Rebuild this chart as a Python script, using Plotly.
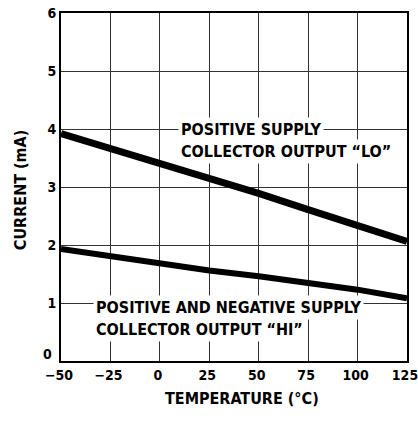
import plotly.graph_objects as go

temps = [-50, -25, 0, 25, 50, 75, 100, 125]
current_lo = [3.92, 3.67, 3.40, 3.14, 2.89, 2.61, 2.35, 2.06]
current_hi = [1.93, 1.80, 1.67, 1.56, 1.46, 1.35, 1.23, 1.08]

x_ticks = [-50, -25, 0, 25, 50, 75, 100, 125]
x_tick_labels = ["\u221250", "\u221225", "0", "25", "50", "75", "100", "125"]
y_ticks = [0, 1, 2, 3, 4, 5, 6]

FONT = "DejaVu Sans Condensed"
TICK_SIZE = 14

fig = go.Figure()
fig.add_trace(go.Scatter(x=temps, y=current_lo, mode="lines",
                         line=dict(color="black", width=7), showlegend=False))
fig.add_trace(go.Scatter(x=temps, y=current_hi, mode="lines",
                         line=dict(color="black", width=6), showlegend=False))

ann_font = dict(family=FONT, size=16, color="black")
labels = [
    (9.2, 4.0, "<b>POSITIVE SUPPLY</b>"),
    (9.2, 3.62, "<b>COLLECTOR OUTPUT \u201cLO\u201d</b>"),
    (-33.8, 0.93, "<b>POSITIVE AND NEGATIVE SUPPLY</b>"),
    (-33.8, 0.55, "<b>COLLECTOR OUTPUT \u201cHI\u201d</b>"),
]
for x, y, t in labels:
    fig.add_annotation(x=x, y=y, text=t, showarrow=False, xanchor="left",
                       yanchor="middle", font=ann_font, bgcolor="white",
                       borderpad=2)

# y tick "0" sits slightly above the axis in the original
fig.add_annotation(x=0, xref="paper", y=y_ticks[0], yref="y", text="<b>0</b>",
                   showarrow=False, xanchor="right", yanchor="middle",
                   xshift=-7, yshift=7,
                   font=dict(family=FONT, size=TICK_SIZE, color="black"))

# axis titles
fig.add_annotation(x=0.523, xref="paper", y=0, yref="paper",
                   text="<b>TEMPERATURE (\u00b0C)</b>", showarrow=False,
                   xanchor="center", yanchor="middle", yshift=-37,
                   font=dict(family=FONT, size=16, color="black"))
fig.add_annotation(x=0, xref="paper", y=0.491, yref="paper",
                   text="<b>CURRENT (mA)</b>", showarrow=False, textangle=-90,
                   xanchor="center", yanchor="middle", xshift=-41,
                   font=dict(family=FONT, size=16, color="black"))

fig.update_layout(
    width=418, height=421,
    margin=dict(l=61, r=11, t=13, b=60, autoexpand=False),
    paper_bgcolor="white", plot_bgcolor="white",
    font=dict(family=FONT, size=16, color="black"),
)
fig.update_xaxes(
    range=[-50, 125], tickvals=x_ticks, ticktext=x_tick_labels,
    showgrid=True, gridcolor="#333", gridwidth=1,
    showline=True, linecolor="black", linewidth=2, mirror=True,
    zeroline=False, ticks="", automargin=False, ticklabeloverflow="allow",
    ticklabelshift=-2,
    tickfont=dict(family=FONT, size=TICK_SIZE, weight="bold"),
)
fig.update_yaxes(
    range=[0, 6], tickvals=y_ticks[1:],
    showgrid=True, gridcolor="#333", gridwidth=1,
    showline=True, linecolor="black", linewidth=2, mirror=True,
    zeroline=False, ticks="", automargin=False, ticklabeloverflow="allow",
    tickfont=dict(family=FONT, size=TICK_SIZE, weight="bold"),
)

fig.write_html("out.html", config={"displayModeBar": False},
               post_script="document.body.style.margin='0';document.body.style.overflow='hidden';")
